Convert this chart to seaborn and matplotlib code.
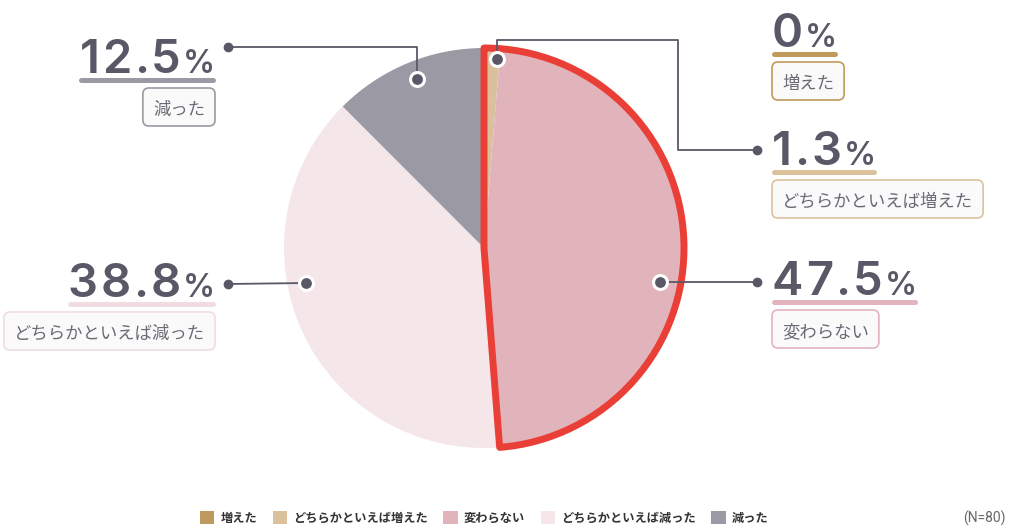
import matplotlib.pyplot as plt
import seaborn as sns
from matplotlib.patches import Wedge, FancyBboxPatch

# data
categories = ['増えた', 'どちらかといえば増えた', '変わらない', 'どちらかといえば減った', '減った']
shares = [0, 1.3, 47.5, 38.8, 12.5]
pct_text = ['0', '1.3', '47.5', '38.8', '12.5']
slice_colors = ['#bf9a5e', '#dbc19b', '#e1b4bc', '#f4e6e9', '#9b9aa4']
accent_colors = ['#c09a5b', '#dcc29c', '#e2b4bd', '#f1dce2', '#9b9aa4']
highlight = '変わらない'
n_total = 80

TEXT = '#5a5867'
LINE = '#5a5867'
RED = '#ea3f36'

sns.set_theme(style='white')
plt.rcParams['font.family'] = ['Noto Sans CJK JP', 'DejaVu Sans']
NUM_FONT = ['Inter', 'DejaVu Sans']

fig = plt.figure(figsize=(10.09, 5.27), dpi=100)
ax = fig.add_axes([0, 0, 1, 1])

# pie, clockwise from the top (y axis is flipped below, so counterclock=True)
CENTER, RADIUS = (484, 248), 200
wedges, _ = ax.pie(shares, colors=slice_colors, startangle=-90, counterclock=True,
                   center=CENTER, radius=RADIUS, wedgeprops=dict(linewidth=0))
ax.set_xlim(0, 1009)
ax.set_ylim(527, 0)
ax.set_aspect('equal')
ax.axis('off')

# red outline round the highlighted slice
hi = categories.index(highlight)
ax.add_patch(Wedge(CENTER, RADIUS, wedges[0].theta1, wedges[hi].theta2, fill=False,
                   ec=RED, lw=5, joinstyle='round', zorder=4))

# label layout: anchor x, baseline y, which side the text grows from, leader path
layout = {
    '増えた': dict(x=772, y=47, side='left', leader=None),
    'どちらかといえば増えた': dict(x=772, y=165, side='left',
                          leader=[(497, 59), (497, 40), (678, 40), (678, 150), (757, 150)]),
    '変わらない': dict(x=772, y=295, side='left', leader=[(660, 282), (757, 282)]),
    'どちらかといえば減った': dict(x=215, y=297, side='right', leader=[(306, 283), (228, 284)]),
    '減った': dict(x=215, y=73, side='right', leader=[(417, 79), (417, 47), (228, 47)]),
}

fig.canvas.draw()
renderer = fig.canvas.get_renderer()
inv = ax.transData.inverted()


def extent(t):
    bb = t.get_window_extent(renderer)
    (x0, _), (x1, _) = inv.transform([(bb.x0, bb.y0), (bb.x1, bb.y1)])
    return x0, x1


num_kw = dict(family=NUM_FONT, color=TEXT, fontweight='semibold', va='baseline', zorder=6)
SPACING = 2.5


def spaced(x0, y, s, size):
    """draw s char by char from x0 with extra letter spacing, return right edge"""
    x = x0
    for ch in s:
        t = ax.text(x, y, ch, fontsize=size, ha='left', **num_kw)
        x = extent(t)[1] + SPACING
    return x - SPACING


def spaced_width(s, size):
    w = 0
    for ch in s:
        t = ax.text(0, 0, ch, fontsize=size, ha='left', **num_kw)
        a, b = extent(t)
        t.remove()
        w += (b - a) + SPACING
    return w - SPACING


NUM_SIZE, PCT_SIZE = 34, 23

for cat, pct, acc in zip(categories, pct_text, accent_colors):
    lay = layout[cat]
    x, y = lay['x'], lay['y']
    total = spaced_width(pct, NUM_SIZE) + 2 + spaced_width('%', PCT_SIZE)
    x_left = x if lay['side'] == 'left' else x - total
    nx1 = spaced(x_left, y, pct, NUM_SIZE)
    x_right = spaced(nx1 + 2, y, '%', PCT_SIZE)
    ax.plot([x_left + 2, x_right - 2], [y + 7, y + 7], color=acc, lw=3.6,
            solid_capstyle='round', zorder=5)

    # category tag under the number
    tb = ax.text(0, 0, cat, fontsize=12.5, color='#6b6a75', ha='center',
                 va='center_baseline', zorder=7)
    bx0, bx1 = extent(tb)
    w = (bx1 - bx0) + 20
    h = 38
    top = y + 15
    left = x_left if lay['side'] == 'left' else x_right - w
    ax.add_patch(FancyBboxPatch((left, top), w, h, boxstyle='round,pad=0,rounding_size=6',
                                fc='#fafafa', ec=acc, lw=1.2, zorder=6))
    tb.set_position((left + w / 2, top + h / 2 + 1))

    # leader line with dots
    if lay['leader']:
        xs = [p[0] for p in lay['leader']]
        ys = [p[1] for p in lay['leader']]
        ax.plot(xs, ys, color=LINE, lw=1.3, zorder=5)
        ax.plot(xs[-1], ys[-1], 'o', color=LINE, ms=6, zorder=6)
        ax.plot(xs[0], ys[0], 'o', mfc=LINE, mec='white', mew=2.2, ms=10, zorder=6)

# legend along the bottom
leg = ax.legend(wedges, categories, loc='center', bbox_to_anchor=(0.48, 9 / 527),
                ncol=5, frameon=False, handlelength=1.2, handleheight=1.2,
                handletextpad=0.5, columnspacing=1.25, borderaxespad=0,
                prop=dict(family=['Noto Sans CJK JP', 'DejaVu Sans'], weight='bold', size=8.8))
for t in leg.get_texts():
    t.set_color('#333333')

fig.text(0.997, 9 / 527, f'(N={n_total})', ha='right', va='center', fontsize=10,
         color='#666666', family=['Roboto', 'DejaVu Sans'])

fig.savefig('out.png', dpi=100)
